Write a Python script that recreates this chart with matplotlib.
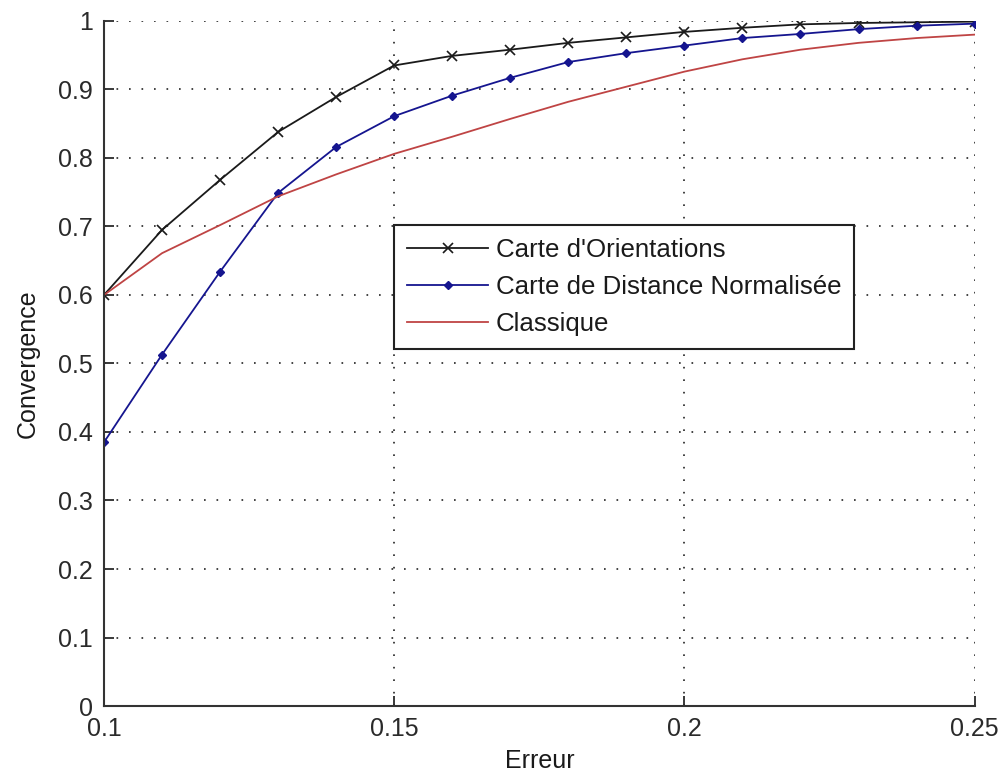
import numpy as np
import matplotlib
matplotlib.use('Agg')
import matplotlib.pyplot as plt

plt.rcParams['font.family'] = ['Liberation Sans', 'DejaVu Sans']

erreur = [0.10, 0.11, 0.12, 0.13, 0.14, 0.15, 0.16, 0.17,
          0.18, 0.19, 0.20, 0.21, 0.22, 0.23, 0.24, 0.25]
orientations = [0.600, 0.695, 0.768, 0.838, 0.889, 0.935, 0.949, 0.958,
                0.968, 0.976, 0.984, 0.990, 0.995, 0.997, 0.998, 0.999]
distance = [0.385, 0.513, 0.634, 0.749, 0.816, 0.861, 0.891, 0.917,
            0.940, 0.953, 0.964, 0.975, 0.981, 0.988, 0.993, 0.996]
classique = [0.600, 0.661, 0.702, 0.744, 0.776, 0.806, 0.831, 0.857,
             0.882, 0.904, 0.926, 0.944, 0.958, 0.968, 0.975, 0.980]

fig = plt.figure(figsize=(10.03, 7.75), dpi=100)
ax = fig.add_axes([0.1037, 0.089, 0.868, 0.884])

ax.plot(erreur, orientations, color='#1a1a1a', marker='x', markersize=7,
        markeredgewidth=1.2, linewidth=1.3, label="Carte d'Orientations")
ax.plot(erreur, distance, color='#15158f', marker='D', markersize=4.5,
        linewidth=1.3, label='Carte de Distance Normalisée')
ax.plot(erreur, classique, color='#bf4444', linewidth=1.3, label='Classique')

ax.set_xlim(0.1, 0.25)
ax.set_ylim(0, 1)
ax.set_xticks([0.1, 0.15, 0.2, 0.25])
ax.set_xticklabels(['0.1', '0.15', '0.2', '0.25'])
ax.set_yticks(np.arange(0, 1.01, 0.1))
ax.set_yticklabels(['0', '0.1', '0.2', '0.3', '0.4', '0.5', '0.6', '0.7', '0.8', '0.9', '1'])
ax.tick_params(direction='in', length=7, width=1.3, labelsize=18, colors='#2a2a2a')
ax.tick_params(axis='y', pad=8)
ax.tick_params(axis='x', pad=8)
ax.grid(True, color='#222222', linestyle=(0, (1, 6.5)), linewidth=1.2)
ax.spines['top'].set_visible(False)
ax.spines['right'].set_visible(False)
ax.spines['left'].set_linewidth(1.5)
ax.spines['bottom'].set_linewidth(1.5)
ax.spines['left'].set_color('#333333')
ax.spines['bottom'].set_color('#333333')
ax.set_xlabel('Erreur', fontsize=18, labelpad=6, color='#1a1a1a')
ax.set_ylabel('Convergence', fontsize=18, labelpad=13, color='#1a1a1a')

leg = ax.legend(loc='upper left', bbox_to_anchor=(0.333, 0.702), fontsize=18.6,
                fancybox=False, framealpha=1, edgecolor='#222222', borderaxespad=0,
                handlelength=3.15, borderpad=0.5, labelspacing=0.5, handletextpad=0.3)
leg.get_frame().set_linewidth(1.5)
for t in leg.get_texts():
    t.set_color('#1a1a1a')

fig.savefig('out.png', dpi=100)
